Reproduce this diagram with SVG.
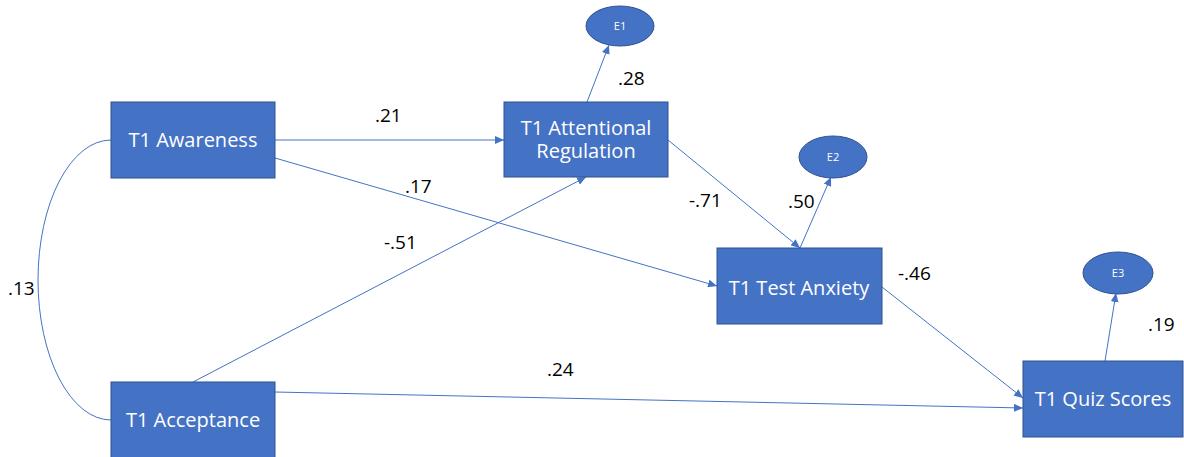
<svg xmlns="http://www.w3.org/2000/svg" width="1184" height="457" viewBox="0 0 1184 457">
  <style>
    .box { fill: #4472C4; stroke: #2F528F; stroke-width: 1; }
    .err { fill: #4472C4; stroke: #2F528F; stroke-width: 1; }
    .lbl { font-family: "Open Sans", "Noto Sans", sans-serif; font-size: 20px; fill: #FFFFFF; text-anchor: middle; }
    .elbl { font-family: "Open Sans", "Noto Sans", sans-serif; font-size: 11px; fill: #FFFFFF; text-anchor: middle; }
    .coef { font-family: "Open Sans", "Noto Sans", sans-serif; font-size: 19px; fill: #000000; }
    .path { fill: none; stroke: #4472C4; stroke-width: 1; }
  </style>
  <defs>
    <marker id="arrow" markerUnits="userSpaceOnUse" markerWidth="10" markerHeight="8" refX="9" refY="4" orient="auto">
      <path d="M0,0 L9,4 L0,8 z" fill="#4472C4"/>
    </marker>
  </defs>
  <rect width="1184" height="457" fill="#FFFFFF"/>

  <!-- paths between variables -->
  <g id="connectors">
    <path class="path" d="M111,140 A73,140 0 0 0 111,420"/>
    <line class="path" x1="275" y1="140" x2="504" y2="140" marker-end="url(#arrow)"/>
    <line class="path" x1="275" y1="158" x2="717" y2="286" marker-end="url(#arrow)"/>
    <line class="path" x1="193" y1="382" x2="586" y2="177" marker-end="url(#arrow)"/>
    <line class="path" x1="668" y1="140" x2="800" y2="248" marker-end="url(#arrow)"/>
    <line class="path" x1="882" y1="287" x2="1023" y2="398" marker-end="url(#arrow)"/>
    <line class="path" x1="275" y1="392" x2="1023" y2="408" marker-end="url(#arrow)"/>
    <line class="path" x1="587" y1="102" x2="609" y2="45" marker-end="url(#arrow)"/>
    <line class="path" x1="800" y1="248" x2="831" y2="177" marker-end="url(#arrow)"/>
    <line class="path" x1="1105" y1="361" x2="1116" y2="293" marker-end="url(#arrow)"/>
  </g>

  <!-- coefficients -->
  <g id="coefficients">
    <text class="coef" x="8" y="295">.13</text>
    <text class="coef" x="375" y="122">.21</text>
    <text class="coef" x="405" y="193">.17</text>
    <text class="coef" x="384" y="249">-.51</text>
    <text class="coef" x="618" y="85">.28</text>
    <text class="coef" x="689" y="207">-.71</text>
    <text class="coef" x="788" y="208">.50</text>
    <text class="coef" x="898" y="280">-.46</text>
    <text class="coef" x="547" y="376">.24</text>
    <text class="coef" x="1148" y="331">.19</text>
  </g>

  <g id="awareness">
    <rect class="box" x="111" y="102" width="164" height="76"/>
    <text class="lbl" x="193" y="147">T1 Awareness</text>
  </g>

  <g id="acceptance">
    <rect class="box" x="111" y="382" width="164" height="76"/>
    <text class="lbl" x="193" y="427">T1 Acceptance</text>
  </g>

  <g id="attentional-regulation">
    <rect class="box" x="504" y="102" width="164" height="75"/>
    <text class="lbl" x="586" y="135">T1 Attentional<tspan x="586" y="158">Regulation</tspan></text>
  </g>

  <g id="test-anxiety">
    <rect class="box" x="717" y="248" width="165" height="76"/>
    <text class="lbl" x="799" y="295">T1 Test Anxiety</text>
  </g>

  <g id="quiz-scores">
    <rect class="box" x="1023" y="361" width="160" height="76"/>
    <text class="lbl" x="1103" y="406">T1 Quiz Scores</text>
  </g>

  <g id="e1">
    <ellipse class="err" cx="620" cy="26" rx="34" ry="20"/>
    <text class="elbl" x="620" y="30">E1</text>
  </g>

  <g id="e2">
    <ellipse class="err" cx="833" cy="157" rx="34" ry="21"/>
    <text class="elbl" x="833" y="161">E2</text>
  </g>

  <g id="e3">
    <ellipse class="err" cx="1118" cy="273" rx="35" ry="21"/>
    <text class="elbl" x="1118" y="277">E3</text>
  </g>
</svg>
